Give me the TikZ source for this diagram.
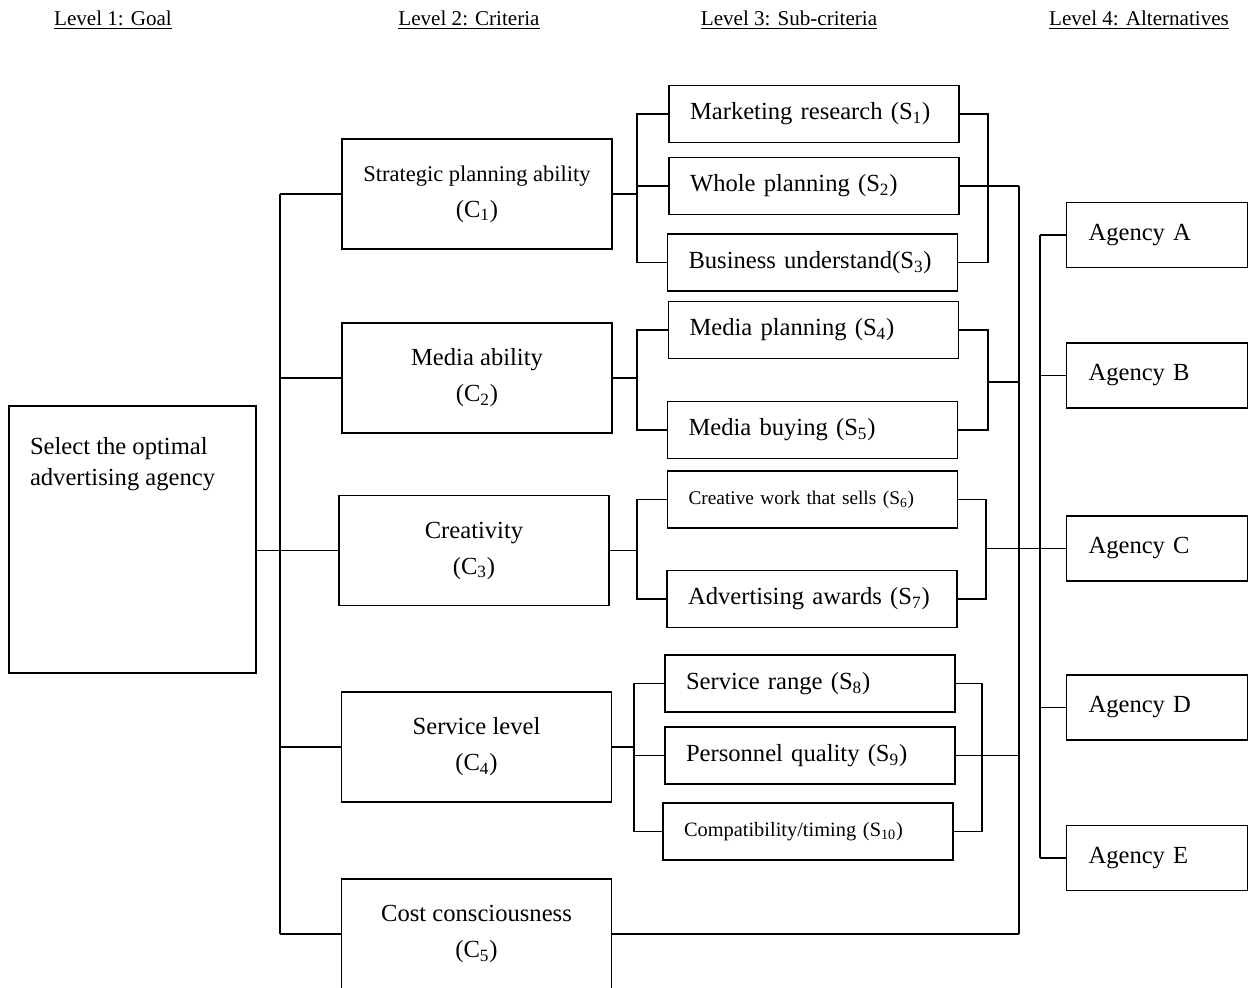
\documentclass[tikz,border=0pt]{standalone}
\usepackage{fontspec}
\setmainfont{Liberation Serif}

\begin{document}
\begin{tikzpicture}[x=0.02cm,y=-0.02cm,line width=1pt]
  \tikzstyle{level_text}=[font=\fontsize{12}{14}\selectfont]
  \tikzstyle{goal}=[draw, minimum width=4.94cm, minimum height=5.34cm]
  \tikzstyle{goal_text}=[anchor=north west, inner sep=0pt, align=left, font=\fontsize{14}{17.6}\selectfont]
  \tikzstyle{criterion}=[draw, minimum width=5.4cm, minimum height=2.2cm, align=center, font=\fontsize{14}{20.5}\selectfont]
  \tikzstyle{subcriterion}=[draw, minimum width=5.8cm, minimum height=1.14cm, inner xsep=0.42cm, text width=4.96cm, align=left, font=\fontsize{14}{17}\selectfont]
  \tikzstyle{small_text}=[font=\fontsize{11}{14}\selectfont]
  \tikzstyle{alternative}=[draw, minimum width=3.62cm, minimum height=1.3cm, inner xsep=0.44cm, text width=2.74cm, align=left, font=\fontsize{14}{17}\selectfont]

  \clip (0,0) rectangle (1250,987);

  % level titles
  \node [level_text] (lev1) at (113,20) {\underline{Level 1: Goal}};
  \node [level_text] (lev2) at (469,20) {\underline{Level 2: Criteria}};
  \node [level_text] (lev3) at (789,20) {\underline{Level 3: Sub-criteria}};
  \node [level_text] (lev4) at (1139,20) {\underline{Level 4: Alternatives}};

  % goal
  \node [goal] (goal) at (132.5,539.5) {};
  \node [goal_text] (goal_label) at ([xshift=0.42cm,yshift=-0.62cm]goal.north west) {Select the optimal\\advertising agency};

  % criteria
  \node [criterion] (c1) at (477,194) {{\fontsize{12.8}{20.5}\selectfont Strategic planning ability}\\(C\textsubscript{1})};
  \node [criterion] (c2) at (477,378) {Media ability\\(C\textsubscript{2})};
  \node [criterion] (c3) at (474,550.5) {Creativity\\(C\textsubscript{3})};
  \node [criterion] (c4) at (476.5,747) {Service level\\(C\textsubscript{4})};
  \node [criterion] (c5) at (476.5,934) {Cost consciousness\\(C\textsubscript{5})};

  % sub-criteria
  \node [subcriterion] (s1) at (814,114) {Marketing research (S\textsubscript{1})};
  \node [subcriterion] (s2) at (814,186) {Whole planning (S\textsubscript{2})};
  \node [subcriterion] (s3) at (812.5,262.5) {Business understand(S\textsubscript{3})};
  \node [subcriterion] (s4) at (813.5,330) {Media planning (S\textsubscript{4})};
  \node [subcriterion] (s5) at (812.5,430) {Media buying (S\textsubscript{5})};
  \node [subcriterion,small_text] (s6) at (812.5,499.5) {Creative work that sells (S\textsubscript{6})};
  \node [subcriterion] (s7) at (812,599) {Advertising awards (S\textsubscript{7})};
  \node [subcriterion] (s8) at (810,683.5) {Service range (S\textsubscript{8})};
  \node [subcriterion] (s9) at (810,755.5) {Personnel quality (S\textsubscript{9})};
  \node [subcriterion,font=\fontsize{11.6}{14}\selectfont] (s10) at (808,831.5) {Compatibility/timing (S\textsubscript{10})};

  % alternatives
  \node [alternative] (agA) at (1157,235) {Agency A};
  \node [alternative] (agB) at (1157,375.5) {Agency B};
  \node [alternative] (agC) at (1157,548.5) {Agency C};
  \node [alternative] (agD) at (1157,707.5) {Agency D};
  \node [alternative] (agE) at (1157,858) {Agency E};

  % bus positions
  \coordinate (bus_goal) at (280,0);
  \coordinate (bus_a) at (637,0);
  \coordinate (bus_b) at (634,0);
  \coordinate (bus_c) at (988,0);
  \coordinate (bus_d) at (986,0);
  \coordinate (bus_e) at (982,0);
  \coordinate (bus_main) at (1019,0);
  \coordinate (bus_alt) at (1040,0);
  \coordinate (mid_media) at (988,382);

  % goal to criteria
  \draw (c1.west -| bus_goal) -- (c5.west -| bus_goal);
  \foreach \i in {1,...,5}
    \draw (c\i.west -| bus_goal) -- (c\i.west);
  \draw (goal.east |- c3.west) -- (c3.west);

  % criteria to sub-criteria
  \draw (c1.east) -- (c1.east -| bus_a);
  \draw (s1.west) -| (bus_a |- s3.west) -- (s3.west);
  \draw (s2.west) -- (s2.west -| bus_a);
  \draw (c2.east) -- (c2.east -| bus_a);
  \draw (s4.west) -| (bus_a |- s5.west) -- (s5.west);
  \draw (c3.east) -- (c3.east -| bus_a);
  \draw (s6.west) -| (bus_a |- s7.west) -- (s7.west);
  \draw (c4.east) -- (c4.east -| bus_b);
  \draw (s8.west) -| (bus_b |- s10.west) -- (s10.west);
  \draw (s9.west) -- (s9.west -| bus_b);

  % sub-criteria to alternatives
  \draw (s1.east) -| (bus_c |- s3.east) -- (s3.east);
  \draw (s4.east) -| (bus_c |- s5.east) -- (s5.east);
  \draw (mid_media) -- (mid_media -| bus_main);
  \draw (s6.east) -| (bus_d |- s7.east) -- (s7.east);
  \draw (bus_d |- agC.west) -- (agC.west);
  \draw (s8.east) -| (bus_e |- s10.east) -- (s10.east);
  \draw (s2.east) -- (s2.east -| bus_main);
  \draw (s9.east) -- (s9.east -| bus_main);
  \draw (c5.east) -- (c5.east -| bus_main);
  \draw (s2.east -| bus_main) -- (c5.east -| bus_main);

  \draw (agA.west -| bus_alt) -- (agE.west -| bus_alt);
  \foreach \a in {A,...,E}
    \draw (ag\a.west -| bus_alt) -- (ag\a.west);
\end{tikzpicture}
\end{document}
